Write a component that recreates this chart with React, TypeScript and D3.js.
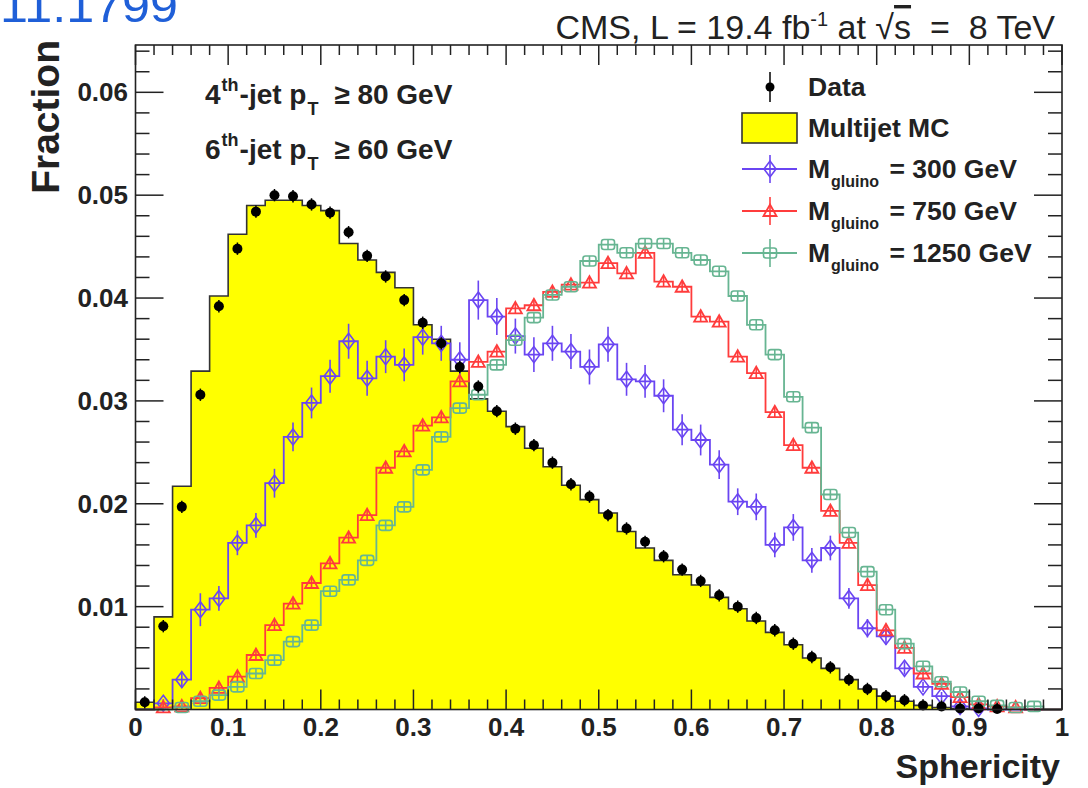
import React from "react";
import * as d3 from "d3";

// Sphericity distribution, 50 bins of width 0.02 on [0, 1]
const binWidth = 0.02;

const dataVals = [
  0.0007, 0.0081, 0.0197, 0.0306, 0.0392, 0.0448, 0.0484, 0.05, 0.0499, 0.0491,
  0.0483, 0.0464, 0.0441, 0.0421, 0.0398, 0.0376, 0.0356, 0.0333, 0.0314, 0.029,
  0.0273, 0.0257, 0.024, 0.0219, 0.0207, 0.0189, 0.0176, 0.0163, 0.0149, 0.0136,
  0.0125, 0.0111, 0.01, 0.0089, 0.0077, 0.0064, 0.0051, 0.0041, 0.0029, 0.002,
  0.0013, 0.0009, 0.0004, 0.0003, 0.0001, 0.0001, 0.00005, 0, 0, 0,
];

const mcVals = [
  0.0007, 0.009, 0.0217, 0.0329, 0.0402, 0.0462, 0.049, 0.0495, 0.0495, 0.049,
  0.0485, 0.0453, 0.0437, 0.0425, 0.041, 0.0374, 0.036, 0.0329, 0.0302, 0.029,
  0.0275, 0.0254, 0.0236, 0.0218, 0.0204, 0.0191, 0.0173, 0.0157, 0.0145, 0.0131,
  0.0121, 0.0109, 0.0098, 0.0086, 0.0075, 0.0063, 0.005, 0.004, 0.0029, 0.002,
  0.0013, 0.0008, 0.0004, 0.0002, 0.0001, 0.00006, 0.00003, 0.00002, 0.00001, 0,
];

const gluino300 = [
  0, 0.0006, 0.0029, 0.0097, 0.0108, 0.0162, 0.0179, 0.022, 0.0265, 0.0298,
  0.0324, 0.0358, 0.0322, 0.0343, 0.0335, 0.0362, 0.0356, 0.034, 0.0398, 0.0382,
  0.0363, 0.0345, 0.0356, 0.0348, 0.0333, 0.0355, 0.0321, 0.0319, 0.0305, 0.0272,
  0.0262, 0.0238, 0.0202, 0.0197, 0.016, 0.0177, 0.0145, 0.0157, 0.0108, 0.0079,
  0.0071, 0.004, 0.0022, 0.0013, 0.0003, 0.0001, 0, 0, 0, 0,
];

const gluino300Err = [
  0, 0.0004, 0.0008, 0.0016, 0.0012, 0.0012, 0.0012, 0.0014, 0.0014, 0.0015,
  0.0016, 0.0017, 0.0017, 0.0016, 0.0016, 0.0017, 0.0017, 0.0017, 0.0019, 0.0018,
  0.0017, 0.0017, 0.0017, 0.0017, 0.0017, 0.0017, 0.0016, 0.0016, 0.0016, 0.0015,
  0.0015, 0.0014, 0.0013, 0.0013, 0.0012, 0.0013, 0.0012, 0.0012, 0.001, 0.0009,
  0.0008, 0.0006, 0.0005, 0.0004, 0.0002, 0.0001, 0, 0, 0, 0,
];

const gluino750 = [
  0, 0.0002, 0.0003, 0.0011, 0.0021, 0.0032, 0.0053, 0.0082, 0.0103, 0.0123,
  0.0142, 0.0167, 0.0189, 0.0235, 0.0251, 0.0276, 0.0284, 0.0319, 0.0338, 0.0348,
  0.039, 0.0393, 0.0406, 0.0413, 0.0415, 0.0434, 0.0424, 0.0444, 0.0416, 0.0411,
  0.0382, 0.0377, 0.0343, 0.0327, 0.0289, 0.0257, 0.0235, 0.0193, 0.0162, 0.0121,
  0.0077, 0.006, 0.0035, 0.0025, 0.0012, 0.0005, 0.0003, 0.0002, 0, 0,
];

const gluino1250 = [
  0, 0, 0.0002, 0.0008, 0.0014, 0.0022, 0.0035, 0.0048, 0.0066, 0.0082,
  0.0115, 0.0126, 0.0145, 0.0179, 0.0197, 0.0233, 0.0265, 0.0293, 0.0306, 0.0335,
  0.0359, 0.0381, 0.0403, 0.0411, 0.0436, 0.0452, 0.0444, 0.0453, 0.0453, 0.0444,
  0.0437, 0.0426, 0.0402, 0.0374, 0.0345, 0.0304, 0.0274, 0.0209, 0.0172, 0.0134,
  0.0097, 0.0064, 0.0042, 0.0027, 0.0017, 0.0008, 0.0004, 0.0002, 0.0003, 0,
];

const dataErr = 0.0006;
const signalErr = 0.0005;

const xTicks = [0, 0.1, 0.2, 0.3, 0.4, 0.5, 0.6, 0.7, 0.8, 0.9, 1];
const xTickLabels = ["0", "0.1", "0.2", "0.3", "0.4", "0.5", "0.6", "0.7", "0.8", "0.9", "1"];
const yTicks = [0.01, 0.02, 0.03, 0.04, 0.05, 0.06];
const yTickLabels = ["0.01", "0.02", "0.03", "0.04", "0.05", "0.06"];

const FONT = "'Liberation Sans', Arial, Helvetica, sans-serif";
const PURPLE = "#6a45f2";
const RED = "#ff3c3c";
const GREEN = "#67b592";
const YELLOW = "#ffff00";

const x = d3.scaleLinear().domain([0, 1]).range([135.5, 1062]);
const y = d3.scaleLinear().domain([0, 0.0646]).range([709.5, 45]);

const centers = (vals: number[]) => vals.map((_, i) => (i + 0.5) * binWidth);

function stepPoints(vals: number[]): [number, number][] {
  const pts: [number, number][] = [[0, 0]];
  vals.forEach((v, i) => {
    pts.push([i * binWidth, v]);
    pts.push([(i + 1) * binWidth, v]);
  });
  pts.push([vals.length * binWidth, 0]);
  return pts;
}

const stepLine = d3
  .line<[number, number]>()
  .x((d) => x(d[0]))
  .y((d) => y(d[1]));

const stepArea = d3
  .area<[number, number]>()
  .x((d) => x(d[0]))
  .y0(y(0))
  .y1((d) => y(d[1]));

const diamond = (cx: number, cy: number) =>
  `M${cx},${cy - 8}L${cx + 6},${cy}L${cx},${cy + 8}L${cx - 6},${cy}Z`;
const triangle = (cx: number, cy: number) =>
  `M${cx},${cy - 6.5}L${cx + 6.5},${cy + 5}L${cx - 6.5},${cy + 5}Z`;

function Marker({ kind, cx, cy, color }: { kind: string; cx: number; cy: number; color: string }) {
  if (kind === "diamond")
    return <path d={diamond(cx, cy)} fill="none" stroke={color} strokeWidth={1.6} />;
  if (kind === "triangle")
    return <path d={triangle(cx, cy)} fill="none" stroke={color} strokeWidth={1.8} />;
  return (
    <rect x={cx - 6.5} y={cy - 5} width={13} height={10} rx={2.5} fill="none" stroke={color} strokeWidth={1.6} />
  );
}

function SignalSeries({
  vals,
  errs,
  color,
  kind,
}: {
  vals: number[];
  errs: number[] | number;
  color: string;
  kind: string;
}) {
  const cs = centers(vals);
  return (
    <g>
      <path d={stepLine(stepPoints(vals)) || ""} fill="none" stroke={color} strokeWidth={1.8} />
      {vals.map((v, i) => {
        if (v <= 0) return null;
        const e = typeof errs === "number" ? errs : errs[i];
        const cx = x(cs[i]);
        return (
          <g key={i}>
            <line x1={cx} x2={cx} y1={y(v + e)} y2={y(Math.max(0, v - e))} stroke={color} strokeWidth={1.6} />
            <Marker kind={kind} cx={cx} cy={y(v)} color={color} />
          </g>
        );
      })}
    </g>
  );
}

export default function App() {
  const xMinor = d3.range(0, 1.0001, 0.02);
  const yMinor = d3.range(0, 0.0646, 0.002);
  const x0 = x(0);
  const x1 = x(1);
  const yTop = y.range()[1];
  const yBot = y(0);
  const cs = centers(dataVals);

  const legendX = 808;
  const legendMarkX = 770;
  const legendRows = [87, 128, 169, 211, 253];
  const signalLegend = [
    { label: "300", color: PURPLE, kind: "diamond" },
    { label: "750", color: RED, kind: "triangle" },
    { label: "1250", color: GREEN, kind: "square" },
  ];

  return (
    <svg
      width={1088}
      height={788}
      style={{ position: "absolute", left: 0, top: 0, display: "block", background: "#fff" }}
      fontFamily={FONT}
    >
      <rect width={1088} height={788} fill="#fff" />

      {/* arXiv number along the top edge */}
      <text x={0} y={22} fontSize={46} fill="#1f5fd8" textLength={178} lengthAdjust="spacingAndGlyphs">
        11.1799
      </text>

      {/* title */}
      <text x={1055} y={39} textAnchor="end" fontSize={34} fill="#222" style={{ whiteSpace: "pre" }}>
        <tspan>CMS, L = 19.4 fb</tspan>
        <tspan fontSize={20} dy={-13}>-1</tspan>
        <tspan dy={13}> at √</tspan>
        <tspan textDecoration="overline">s</tspan>
        <tspan>{"  =  8 TeV"}</tspan>
      </text>

      {/* multijet MC */}
      <path d={stepArea(stepPoints(mcVals)) || ""} fill={YELLOW} />
      <path d={stepLine(stepPoints(mcVals)) || ""} fill="none" stroke="#333" strokeWidth={1.6} />

      {/* signal samples */}
      <SignalSeries vals={gluino300} errs={gluino300Err} color={PURPLE} kind="diamond" />
      <SignalSeries vals={gluino750} errs={signalErr} color={RED} kind="triangle" />
      <SignalSeries vals={gluino1250} errs={signalErr} color={GREEN} kind="square" />

      {/* data */}
      <g>
        {dataVals.map((v, i) =>
          v > 0 ? (
            <g key={i}>
              <line x1={x(cs[i])} x2={x(cs[i])} y1={y(v + dataErr)} y2={y(Math.max(0, v - dataErr))} stroke="#000" strokeWidth={1.5} />
              <circle cx={x(cs[i])} cy={y(v)} r={5} fill="#000" />
            </g>
          ) : null
        )}
      </g>

      {/* frame */}
      <rect x={x0} y={yTop} width={x1 - x0} height={yBot - yTop} fill="none" stroke="#222" strokeWidth={1.6} />

      {/* ticks on all four sides */}
      <g stroke="#222" strokeWidth={1.5}>
        {xMinor.map((t, i) => {
          const major = i % 5 === 0;
          const len = major ? 20 : 10;
          return (
            <g key={i}>
              <line x1={x(t)} x2={x(t)} y1={yBot} y2={yBot - len} />
              <line x1={x(t)} x2={x(t)} y1={yTop} y2={yTop + len} />
            </g>
          );
        })}
        {yMinor.map((t, i) => {
          const major = i % 5 === 0;
          const len = major ? 28 : 14;
          return (
            <g key={i}>
              <line x1={x0} x2={x0 + len} y1={y(t)} y2={y(t)} />
              <line x1={x1} x2={x1 - len} y1={y(t)} y2={y(t)} />
            </g>
          );
        })}
      </g>

      {/* tick labels */}
      <g fontWeight="bold" fontSize={26} fill="#222">
        {xTicks.map((t, i) => (
          <text key={i} x={x(t)} y={736} textAnchor="middle">
            {xTickLabels[i]}
          </text>
        ))}
        {yTicks.map((t, i) => (
          <text key={i} x={128} y={y(t) + 9} textAnchor="end">
            {yTickLabels[i]}
          </text>
        ))}
      </g>

      {/* axis titles */}
      <text x={1060} y={778} textAnchor="end" fontWeight="bold" fontSize={34} fill="#222">
        Sphericity
      </text>
      <text transform="translate(59,40) rotate(-90)" textAnchor="end" fontWeight="bold" fontSize={39} fill="#222">
        Fraction
      </text>

      {/* selection labels */}
      <g fontWeight="bold" fontSize={28} fill="#222" style={{ whiteSpace: "pre" }}>
        <text x={205} y={104}>
          <tspan>4</tspan>
          <tspan fontSize={18} dy={-13} dx={1}>th</tspan>
          <tspan dy={13} dx={1}>-jet p</tspan>
          <tspan fontSize={18} dy={11} dx={1}>T</tspan>
          <tspan dy={-11} dx={8}>{" ≥ 80 GeV"}</tspan>
        </text>
        <text x={205} y={159}>
          <tspan>6</tspan>
          <tspan fontSize={18} dy={-13} dx={1}>th</tspan>
          <tspan dy={13} dx={1}>-jet p</tspan>
          <tspan fontSize={18} dy={11} dx={1}>T</tspan>
          <tspan dy={-11} dx={8}>{" ≥ 60 GeV"}</tspan>
        </text>
      </g>

      {/* legend */}
      <g fontWeight="bold" fontSize={26.5} fill="#222" style={{ whiteSpace: "pre" }}>
        <line x1={legendMarkX} x2={legendMarkX} y1={legendRows[0] - 15} y2={legendRows[0] + 15} stroke="#000" strokeWidth={1.5} />
        <circle cx={legendMarkX} cy={legendRows[0]} r={4.5} fill="#000" />
        <text x={legendX} y={legendRows[0] + 9}>Data</text>

        <rect x={742} y={legendRows[1] - 15} width={55} height={30} fill={YELLOW} stroke="#333" strokeWidth={1.6} />
        <text x={legendX} y={legendRows[1] + 9}>Multijet MC</text>

        {signalLegend.map((s, i) => {
          const cy = legendRows[i + 2];
          return (
            <g key={s.label}>
              <line x1={742} x2={797} y1={cy} y2={cy} stroke={s.color} strokeWidth={1.8} />
              <line x1={legendMarkX} x2={legendMarkX} y1={cy - 14} y2={cy + 14} stroke={s.color} strokeWidth={1.6} />
              <Marker kind={s.kind} cx={legendMarkX} cy={cy} color={s.color} />
              <text x={legendX} y={cy + 9}>
                <tspan>M</tspan>
                <tspan fontSize={16} dy={9} dx={1}>gluino</tspan>
                <tspan dy={-9} dx={3}>{` = ${s.label} GeV`}</tspan>
              </text>
            </g>
          );
        })}
      </g>
    </svg>
  );
}
